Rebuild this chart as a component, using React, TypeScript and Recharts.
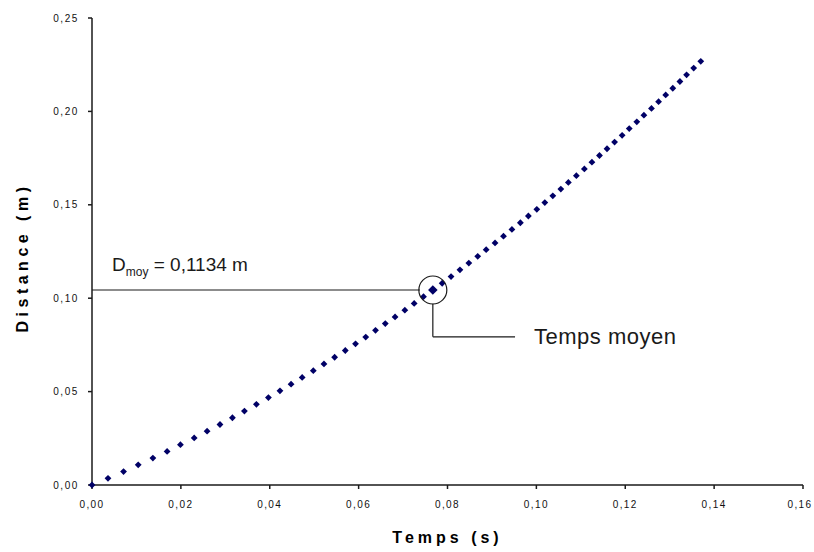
import React from "react"

import {
	ReferenceDot,
	ReferenceLine,
	Scatter,
	ScatterChart,
	XAxis,
	YAxis
} from "recharts"

// Temps (s) of each measured point
const TEMPS = [
	0, 0.0036, 0.0071, 0.0104, 0.0137, 0.0169, 0.0199, 0.023, 0.0259, 0.0288,
	0.0316, 0.0343, 0.037, 0.0397, 0.0423, 0.0448, 0.0473, 0.0498, 0.0522,
	0.0546, 0.057, 0.0593, 0.0616, 0.0638, 0.066, 0.0682, 0.0704, 0.0725,
	0.0746, 0.0767, 0.0788, 0.0808, 0.0828, 0.0848, 0.0868, 0.0887, 0.0907,
	0.0926, 0.0945, 0.0964, 0.0982, 0.1001, 0.1019, 0.1037, 0.1055, 0.1072,
	0.109, 0.1108, 0.1125, 0.1142, 0.1159, 0.1176, 0.1193, 0.1209, 0.1226,
	0.1242, 0.1259, 0.1275, 0.1291, 0.1307, 0.1323, 0.1338, 0.1354, 0.137
]

// Distance (m) of each measured point
const DISTANCES = [
	0, 0.0036, 0.0072, 0.0108, 0.0144, 0.018, 0.0216, 0.0252, 0.0288, 0.0324,
	0.036, 0.0396, 0.0432, 0.0468, 0.0504, 0.054, 0.0576, 0.0612, 0.0648,
	0.0684, 0.072, 0.0756, 0.0792, 0.0828, 0.0864, 0.09, 0.0936, 0.0972,
	0.1008, 0.1044, 0.108, 0.1116, 0.1152, 0.1188, 0.1224, 0.126, 0.1296,
	0.1332, 0.1368, 0.1404, 0.144, 0.1476, 0.1512, 0.1548, 0.1584, 0.162,
	0.1656, 0.1692, 0.1728, 0.1764, 0.18, 0.1836, 0.1872, 0.1908, 0.1944,
	0.198, 0.2016, 0.2052, 0.2088, 0.2124, 0.216, 0.2196, 0.2232, 0.2268
]

const X_TICKS = [0, 0.02, 0.04, 0.06, 0.08, 0.1, 0.12, 0.14, 0.16]
const Y_TICKS = [0, 0.05, 0.1, 0.15, 0.2, 0.25]

// point "temps moyen" and the callout around it
const MOYEN_T = 0.0767
const MOYEN_D = 0.1044
const CALLOUT_T_START = 0.0738
const CALLOUT_D_LOW = 0.097
const CALLOUT_D_TEXT = 0.0793
const CALLOUT_T_END = 0.0952

const points = TEMPS.map((t, i) => ({ t, d: DISTANCES[i] }))
const moyen = [{ t: MOYEN_T, d: MOYEN_D }]

const NAVY = "#000066"
const INK = "#1a1a1a"
const FONT = "Liberation Sans, Arial, sans-serif"

const fmt = (v: number) => v.toFixed(2).replace(".", ",")

// eslint-disable-next-line @typescript-eslint/no-explicit-any
const Diamond = (r: number) => (props: any) => {
	const { cx, cy } = props
	if (cx == null || cy == null) return null
	return (
		<polygon
			points={`${cx},${cy - r} ${cx + r},${cy} ${cx},${cy + r} ${cx - r},${cy}`}
			fill={NAVY}
		/>
	)
}

// x tick: last label nudged in so it stays on the page
// eslint-disable-next-line @typescript-eslint/no-explicit-any
const XTick = (props: any) => {
	const { x, y, payload, index } = props
	const last = payload.value === X_TICKS[X_TICKS.length - 1]
	return (
		<text
			key={index}
			x={last ? x - 3 : x}
			y={y}
			dy="0.71em"
			textAnchor="middle"
			fill="#111"
			fontFamily={FONT}
			fontSize={10}
			letterSpacing={1.4}
		>
			{fmt(payload.value)}
		</text>
	)
}

// eslint-disable-next-line @typescript-eslint/no-explicit-any
const DmoyLabel = (props: any) => {
	const { x, y } = props.viewBox
	return (
		<text x={x + 20} y={y - 19} fill={INK} fontFamily={FONT} fontSize={19}>
			D
			<tspan fontSize={12} dy={5}>
				moy
			</tspan>
			<tspan dy={-5}> = 0,1134 m</tspan>
		</text>
	)
}

// eslint-disable-next-line @typescript-eslint/no-explicit-any
const MoyenLabel = (props: any) => {
	const { x, y, width } = props.viewBox
	return (
		<text
			x={x + width + 19}
			y={y + 7}
			fill={INK}
			fontFamily={FONT}
			fontSize={22}
			letterSpacing={0.5}
		>
			Temps moyen
		</text>
	)
}

// eslint-disable-next-line @typescript-eslint/no-explicit-any
const XTitle = (props: any) => {
	const { x, y, width } = props.viewBox
	return (
		<text
			x={x + width / 2}
			y={y + 58}
			textAnchor="middle"
			fill="#000"
			fontFamily={FONT}
			fontWeight="bold"
			fontSize={16}
			letterSpacing={4}
		>
			Temps (s)
		</text>
	)
}

// eslint-disable-next-line @typescript-eslint/no-explicit-any
const YTitle = (props: any) => {
	const { y, height } = props.viewBox
	const cx = 28
	const cy = y + height / 2 + 6
	return (
		<text
			x={cx}
			y={cy}
			textAnchor="middle"
			transform={`rotate(-90, ${cx}, ${cy})`}
			fill="#000"
			fontFamily={FONT}
			fontWeight="bold"
			fontSize={16}
			letterSpacing={4.5}
		>
			Distance (m)
		</text>
	)
}

const tickStyle = {
	fill: "#111",
	fontSize: 10,
	fontFamily: FONT,
	letterSpacing: 1.6
}

const App = () => {
	return (
		<div style={{ position: "absolute", left: 0, top: 0, background: "#fff" }}>
			<ScatterChart
				width={814}
				height={552}
				margin={{ top: 18, right: 11, left: 0, bottom: 0 }}
			>
				<XAxis
					type="number"
					dataKey="t"
					domain={[0, 0.16]}
					ticks={X_TICKS}
					interval={0}
					tickFormatter={fmt}
					height={67}
					tickSize={4}
					tickMargin={12}
					tick={<XTick />}
					axisLine={{ stroke: INK, strokeWidth: 1.5 }}
					tickLine={{ stroke: INK, strokeWidth: 1.5 }}
					label={<XTitle />}
				/>
				<YAxis
					type="number"
					dataKey="d"
					domain={[0, 0.25]}
					ticks={Y_TICKS}
					interval={0}
					tickFormatter={fmt}
					width={92}
					tickSize={4}
					tickMargin={9}
					tick={tickStyle}
					axisLine={{ stroke: INK, strokeWidth: 1.5 }}
					tickLine={{ stroke: INK, strokeWidth: 1.5 }}
					label={<YTitle />}
				/>
				<ReferenceLine
					segment={[
						{ x: 0, y: MOYEN_D },
						{ x: CALLOUT_T_START, y: MOYEN_D }
					]}
					stroke={INK}
					strokeWidth={1.2}
					label={<DmoyLabel />}
				/>
				<ReferenceLine
					segment={[
						{ x: MOYEN_T, y: CALLOUT_D_LOW },
						{ x: MOYEN_T, y: CALLOUT_D_TEXT }
					]}
					stroke={INK}
					strokeWidth={1.2}
				/>
				<ReferenceLine
					segment={[
						{ x: MOYEN_T, y: CALLOUT_D_TEXT },
						{ x: CALLOUT_T_END, y: CALLOUT_D_TEXT }
					]}
					stroke={INK}
					strokeWidth={1.2}
					label={<MoyenLabel />}
				/>
				<Scatter
					data={points}
					shape={Diamond(3.4)}
					isAnimationActive={false}
				/>
				<Scatter
					data={moyen}
					shape={Diamond(4.8)}
					isAnimationActive={false}
				/>
				<ReferenceDot
					x={MOYEN_T}
					y={MOYEN_D}
					r={14}
					fill="none"
					stroke={INK}
					strokeWidth={1.2}
				/>
			</ScatterChart>
		</div>
	)
}

export default App
